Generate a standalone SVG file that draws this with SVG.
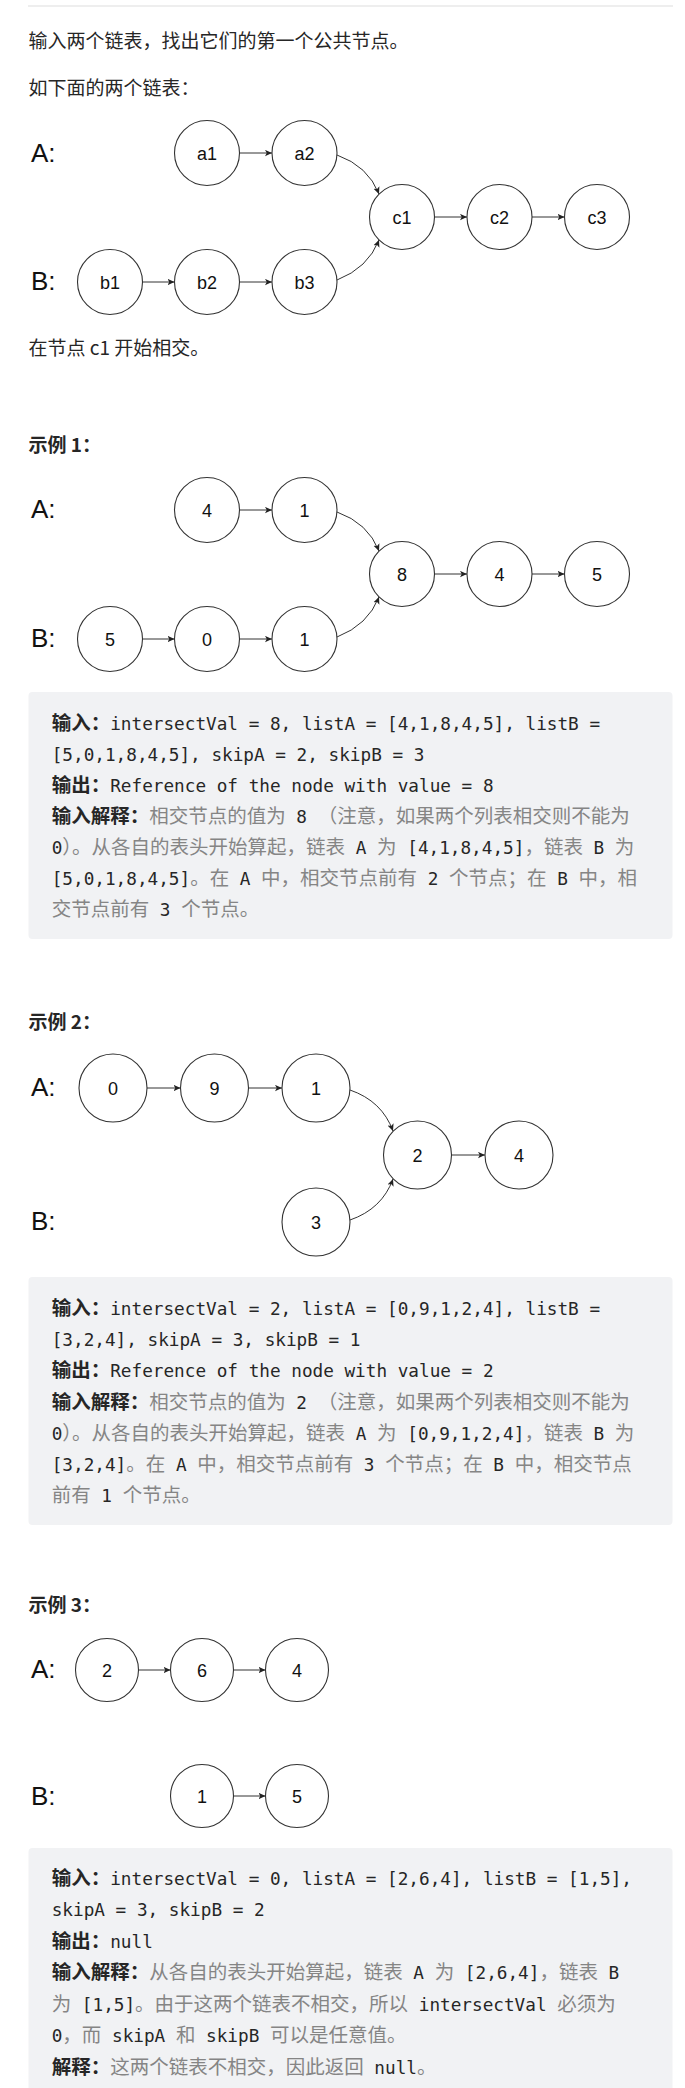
<svg xmlns="http://www.w3.org/2000/svg" width="685" height="2088" viewBox="0 0 685 2088">
<style>
  .body { font-family: "Noto Sans CJK SC", "Liberation Sans", sans-serif; font-size: 19px; fill: #262626; }
  .head { font-family: "Noto Sans CJK SC", "Liberation Sans", sans-serif; font-size: 19px; font-weight: bold; fill: #262626; }
  .lab { font-family: "Liberation Sans", "Noto Sans", sans-serif; font-size: 26px; fill: #111; }
  .node circle { fill: #fff; stroke: #333; stroke-width: 1.1; }
  .node text { font-family: "Liberation Sans", "Noto Sans", sans-serif; font-size: 18px; fill: #111; text-anchor: middle; }
  .edge { fill: none; stroke: #333; stroke-width: 1; marker-end: url(#ah); }
  .box { fill: #f1f2f4; }
  .code { white-space: pre; font-size: 19.5px; }
  .m { font-family: "DejaVu Sans Mono", "Liberation Mono", monospace; font-size: 17.7px; fill: #262626; }
  .g { font-family: "Noto Sans CJK SC", sans-serif; font-size: 19.5px; fill: #858585; }
  .b { font-family: "Noto Sans CJK SC", sans-serif; font-size: 19.5px; font-weight: bold; fill: #262626; }
</style>
<defs>
  <marker id="ah" viewBox="0 0 10 10" refX="10" refY="5" markerWidth="7" markerHeight="7" markerUnits="userSpaceOnUse" orient="auto">
    <path d="M0,0.5 L10,5 L0,9.5 L2.5,5 Z" fill="#222"/>
  </marker>
</defs>

<line x1="28" y1="6" x2="673" y2="6" stroke="#e8e8e8" stroke-width="1.5"/>
<text class="body" x="28.5" y="48">输入两个链表，找出它们的第一个公共节点。</text>
<text class="body" x="28.5" y="95">如下面的两个链表：</text>

<!-- Diagram 0 -->
<text class="lab" x="31" y="162">A:</text>
<text class="lab" x="31" y="290">B:</text>
<g id="connectors0">
  <line class="edge" x1="239.5" y1="153" x2="272" y2="153"/>
  <path class="edge" d="M337,155 Q368,166 379,194"/>
  <path class="edge" d="M337,280 Q368,268 379,240"/>
  <line class="edge" x1="434.5" y1="217" x2="467" y2="217"/>
  <line class="edge" x1="532" y1="217" x2="564.5" y2="217"/>
  <line class="edge" x1="142.5" y1="282" x2="174.5" y2="282"/>
  <line class="edge" x1="239.5" y1="282" x2="272" y2="282"/>
</g>
<g id="n0_a1" class="node"><circle cx="207" cy="153" r="32.5"/><text x="207" y="159.5">a1</text></g>
<g id="n0_a2" class="node"><circle cx="304.5" cy="153" r="32.5"/><text x="304.5" y="159.5">a2</text></g>
<g id="n0_c1" class="node"><circle cx="402" cy="217" r="32.5"/><text x="402" y="223.5">c1</text></g>
<g id="n0_c2" class="node"><circle cx="499.5" cy="217" r="32.5"/><text x="499.5" y="223.5">c2</text></g>
<g id="n0_c3" class="node"><circle cx="597" cy="217" r="32.5"/><text x="597" y="223.5">c3</text></g>
<g id="n0_b1" class="node"><circle cx="110" cy="282" r="32.5"/><text x="110" y="288.5">b1</text></g>
<g id="n0_b2" class="node"><circle cx="207" cy="282" r="32.5"/><text x="207" y="288.5">b2</text></g>
<g id="n0_b3" class="node"><circle cx="304.5" cy="282" r="32.5"/><text x="304.5" y="288.5">b3</text></g>

<text class="body" x="28.5" y="355">在节点 c1 开始相交。</text>

<!-- Example 1 -->
<text class="head" x="28.5" y="452">示例 1：</text>
<text class="lab" x="31" y="518">A:</text>
<text class="lab" x="31" y="647">B:</text>
<g id="connectors1">
  <line class="edge" x1="239.5" y1="510" x2="272" y2="510"/>
  <path class="edge" d="M337,512 Q368,523 379,551"/>
  <path class="edge" d="M337,637 Q368,625 379,597"/>
  <line class="edge" x1="434.5" y1="574" x2="467" y2="574"/>
  <line class="edge" x1="532" y1="574" x2="564.5" y2="574"/>
  <line class="edge" x1="142.5" y1="639" x2="174.5" y2="639"/>
  <line class="edge" x1="239.5" y1="639" x2="272" y2="639"/>
</g>
<g id="n1_a1" class="node"><circle cx="207" cy="510" r="32.5"/><text x="207" y="516.5">4</text></g>
<g id="n1_a2" class="node"><circle cx="304.5" cy="510" r="32.5"/><text x="304.5" y="516.5">1</text></g>
<g id="n1_c1" class="node"><circle cx="402" cy="574" r="32.5"/><text x="402" y="580.5">8</text></g>
<g id="n1_c2" class="node"><circle cx="499.5" cy="574" r="32.5"/><text x="499.5" y="580.5">4</text></g>
<g id="n1_c3" class="node"><circle cx="597" cy="574" r="32.5"/><text x="597" y="580.5">5</text></g>
<g id="n1_b1" class="node"><circle cx="110" cy="639" r="32.5"/><text x="110" y="645.5">5</text></g>
<g id="n1_b2" class="node"><circle cx="207" cy="639" r="32.5"/><text x="207" y="645.5">0</text></g>
<g id="n1_b3" class="node"><circle cx="304.5" cy="639" r="32.5"/><text x="304.5" y="645.5">1</text></g>

<rect class="box" x="28.5" y="692" width="644" height="247" rx="4"/>
<text class="code" x="51.7" y="729.5"><tspan class="b">输入：</tspan><tspan class="m">intersectVal = 8, listA = [4,1,8,4,5], listB =</tspan></text>
<text class="code" x="51.7" y="760.5"><tspan class="m">[5,0,1,8,4,5], skipA = 2, skipB = 3</tspan></text>
<text class="code" x="51.7" y="791.5"><tspan class="b">输出：</tspan><tspan class="m">Reference of the node with value = 8</tspan></text>
<text class="code" x="51.7" y="822.5"><tspan class="b">输入解释：</tspan><tspan class="g">相交节点的值为</tspan><tspan class="m"> 8 </tspan><tspan class="g">（注意，如果两个列表相交则不能为</tspan></text>
<text class="code" x="51.7" y="854"><tspan class="m">0</tspan><tspan class="g">）。从各自的表头开始算起，链表</tspan><tspan class="m"> A </tspan><tspan class="g">为</tspan><tspan class="m"> [4,1,8,4,5]</tspan><tspan class="g">，链表</tspan><tspan class="m"> B </tspan><tspan class="g">为</tspan></text>
<text class="code" x="51.7" y="885"><tspan class="m">[5,0,1,8,4,5]</tspan><tspan class="g">。在</tspan><tspan class="m"> A </tspan><tspan class="g">中，相交节点前有</tspan><tspan class="m"> 2 </tspan><tspan class="g">个节点；在</tspan><tspan class="m"> B </tspan><tspan class="g">中，相</tspan></text>
<text class="code" x="51.7" y="916"><tspan class="g">交节点前有</tspan><tspan class="m"> 3 </tspan><tspan class="g">个节点。</tspan></text>

<!-- Example 2 -->
<text class="head" x="28.5" y="1029">示例 2：</text>
<text class="lab" x="31" y="1096">A:</text>
<text class="lab" x="31" y="1230">B:</text>
<g id="connectors2">
  <line class="edge" x1="147" y1="1088" x2="180.5" y2="1088"/>
  <line class="edge" x1="248.5" y1="1088" x2="282" y2="1088"/>
  <path class="edge" d="M350,1090 Q382,1101 393,1131"/>
  <path class="edge" d="M350,1220 Q382,1209 393,1179"/>
  <line class="edge" x1="451.5" y1="1155" x2="485" y2="1155"/>
</g>
<g id="n2_a1" class="node"><circle cx="113" cy="1088" r="34"/><text x="113" y="1094.5">0</text></g>
<g id="n2_a2" class="node"><circle cx="214.5" cy="1088" r="34"/><text x="214.5" y="1094.5">9</text></g>
<g id="n2_a3" class="node"><circle cx="316" cy="1088" r="34"/><text x="316" y="1094.5">1</text></g>
<g id="n2_c1" class="node"><circle cx="417.5" cy="1155" r="34"/><text x="417.5" y="1161.5">2</text></g>
<g id="n2_c2" class="node"><circle cx="519" cy="1155" r="34"/><text x="519" y="1161.5">4</text></g>
<g id="n2_b1" class="node"><circle cx="316" cy="1222" r="34"/><text x="316" y="1228.5">3</text></g>

<rect class="box" x="28.5" y="1277" width="644" height="248" rx="4"/>
<text class="code" x="51.7" y="1315"><tspan class="b">输入：</tspan><tspan class="m">intersectVal = 2, listA = [0,9,1,2,4], listB =</tspan></text>
<text class="code" x="51.7" y="1346.2"><tspan class="m">[3,2,4], skipA = 3, skipB = 1</tspan></text>
<text class="code" x="51.7" y="1377.4"><tspan class="b">输出：</tspan><tspan class="m">Reference of the node with value = 2</tspan></text>
<text class="code" x="51.7" y="1408.6"><tspan class="b">输入解释：</tspan><tspan class="g">相交节点的值为</tspan><tspan class="m"> 2 </tspan><tspan class="g">（注意，如果两个列表相交则不能为</tspan></text>
<text class="code" x="51.7" y="1439.8"><tspan class="m">0</tspan><tspan class="g">）。从各自的表头开始算起，链表</tspan><tspan class="m"> A </tspan><tspan class="g">为</tspan><tspan class="m"> [0,9,1,2,4]</tspan><tspan class="g">，链表</tspan><tspan class="m"> B </tspan><tspan class="g">为</tspan></text>
<text class="code" x="51.7" y="1471"><tspan class="m">[3,2,4]</tspan><tspan class="g">。在</tspan><tspan class="m"> A </tspan><tspan class="g">中，相交节点前有</tspan><tspan class="m"> 3 </tspan><tspan class="g">个节点；在</tspan><tspan class="m"> B </tspan><tspan class="g">中，相交节点</tspan></text>
<text class="code" x="51.7" y="1502.2"><tspan class="g">前有</tspan><tspan class="m"> 1 </tspan><tspan class="g">个节点。</tspan></text>

<!-- Example 3 -->
<text class="head" x="28.5" y="1612">示例 3：</text>
<text class="lab" x="31" y="1678">A:</text>
<text class="lab" x="31" y="1805">B:</text>
<g id="connectors3">
  <line class="edge" x1="138.5" y1="1670" x2="170.5" y2="1670"/>
  <line class="edge" x1="233.5" y1="1670" x2="265.5" y2="1670"/>
  <line class="edge" x1="233.5" y1="1796" x2="265.5" y2="1796"/>
</g>
<g id="n3_a1" class="node"><circle cx="107" cy="1670" r="31.5"/><text x="107" y="1676.5">2</text></g>
<g id="n3_a2" class="node"><circle cx="202" cy="1670" r="31.5"/><text x="202" y="1676.5">6</text></g>
<g id="n3_a3" class="node"><circle cx="297" cy="1670" r="31.5"/><text x="297" y="1676.5">4</text></g>
<g id="n3_b1" class="node"><circle cx="202" cy="1796" r="31.5"/><text x="202" y="1802.5">1</text></g>
<g id="n3_b2" class="node"><circle cx="297" cy="1796" r="31.5"/><text x="297" y="1802.5">5</text></g>

<rect class="box" x="28.5" y="1848" width="644" height="250" rx="4"/>
<text class="code" x="51.7" y="1884.5"><tspan class="b">输入：</tspan><tspan class="m">intersectVal = 0, listA = [2,6,4], listB = [1,5],</tspan></text>
<text class="code" x="51.7" y="1916"><tspan class="m">skipA = 3, skipB = 2</tspan></text>
<text class="code" x="51.7" y="1947.5"><tspan class="b">输出：</tspan><tspan class="m">null</tspan></text>
<text class="code" x="51.7" y="1979"><tspan class="b">输入解释：</tspan><tspan class="g">从各自的表头开始算起，链表</tspan><tspan class="m"> A </tspan><tspan class="g">为</tspan><tspan class="m"> [2,6,4]</tspan><tspan class="g">，链表</tspan><tspan class="m"> B</tspan></text>
<text class="code" x="51.7" y="2010.5"><tspan class="g">为</tspan><tspan class="m"> [1,5]</tspan><tspan class="g">。由于这两个链表不相交，所以</tspan><tspan class="m"> intersectVal </tspan><tspan class="g">必须为</tspan></text>
<text class="code" x="51.7" y="2042"><tspan class="m">0</tspan><tspan class="g">，而</tspan><tspan class="m"> skipA </tspan><tspan class="g">和</tspan><tspan class="m"> skipB </tspan><tspan class="g">可以是任意值。</tspan></text>
<text class="code" x="51.7" y="2073.5"><tspan class="b">解释：</tspan><tspan class="g">这两个链表不相交，因此返回</tspan><tspan class="m"> null</tspan><tspan class="g">。</tspan></text>
</svg>
